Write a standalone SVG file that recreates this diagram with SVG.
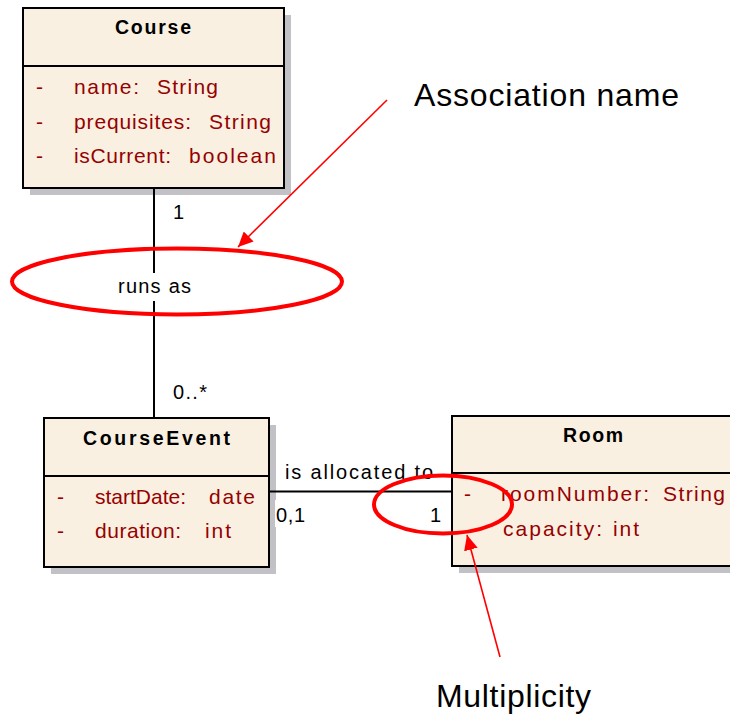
<svg xmlns="http://www.w3.org/2000/svg" width="730" height="715" viewBox="0 0 730 715">
  <style>
    text { font-family: "Liberation Sans", Arial, sans-serif; }
    .shadow { fill: #c2c1c6; }
    .box { fill: #faf0e2; stroke: #000; stroke-width: 2; }
    .div { stroke: #000; stroke-width: 2; }
    .title { font-size: 19.5px; font-weight: bold; fill: #000; }
    .attr { font-size: 21px; fill: #960000; }
    .assoc { stroke: #000; stroke-width: 2; fill: none; }
    .lbl { font-size: 20px; fill: #000; }
    .note { font-size: 32px; fill: #000; }
    .ring { fill: none; stroke: #ff0000; stroke-width: 4; }
    .pointer { stroke: #ff0000; stroke-width: 1.6; fill: none; marker-end: url(#head); }
  </style>
  <defs>
    <marker id="head" markerUnits="userSpaceOnUse" markerWidth="16" markerHeight="14" refX="15" refY="7" orient="auto">
      <path d="M0,0 L15,7 L0,14 z" fill="#ff0000"/>
    </marker>
  </defs>
  <rect width="730" height="715" fill="#fff"/>

  <!-- Course class -->
  <g id="course">
    <rect class="shadow" x="30" y="15" width="261" height="180"/>
    <rect class="box" x="23" y="8" width="261" height="180"/>
    <line class="div" x1="23" y1="66" x2="284" y2="66"/>
    <text class="title" x="115" y="34" textLength="76" lengthAdjust="spacing">Course</text>
    <text class="attr" x="36" y="94">-</text>
    <text class="attr" x="74" y="94" textLength="65" lengthAdjust="spacing">name:</text>
    <text class="attr" x="157" y="94" textLength="61" lengthAdjust="spacing">String</text>
    <text class="attr" x="36" y="129">-</text>
    <text class="attr" x="74" y="129" textLength="117" lengthAdjust="spacing">prequisites:</text>
    <text class="attr" x="209" y="129" textLength="62" lengthAdjust="spacing">String</text>
    <text class="attr" x="36" y="163">-</text>
    <text class="attr" x="74" y="163" textLength="97" lengthAdjust="spacing">isCurrent:</text>
    <text class="attr" x="189" y="163" textLength="87" lengthAdjust="spacing">boolean</text>
  </g>

  <!-- CourseEvent class -->
  <g id="courseevent">
    <rect class="shadow" x="51" y="425" width="225" height="149"/>
    <rect class="box" x="44" y="418" width="225" height="149"/>
    <line class="div" x1="44" y1="476" x2="269" y2="476"/>
    <text class="title" x="83" y="445" textLength="147" lengthAdjust="spacing">CourseEvent</text>
    <text class="attr" x="57" y="504">-</text>
    <text class="attr" x="95" y="504" textLength="91" lengthAdjust="spacing">startDate:</text>
    <text class="attr" x="209" y="504" textLength="46" lengthAdjust="spacing">date</text>
    <text class="attr" x="57" y="538">-</text>
    <text class="attr" x="95" y="538" textLength="86" lengthAdjust="spacing">duration:</text>
    <text class="attr" x="205" y="538" textLength="26" lengthAdjust="spacing">int</text>
  </g>

  <!-- Room class -->
  <g id="room">
    <rect class="shadow" x="459" y="423" width="290" height="150"/>
    <rect class="box" x="452" y="416" width="290" height="150"/>
    <line class="div" x1="452" y1="473" x2="742" y2="473"/>
    <text class="title" x="563" y="442" textLength="60" lengthAdjust="spacing">Room</text>
    <text class="attr" x="464" y="501">-</text>
    <text class="attr" x="501" y="501" textLength="148" lengthAdjust="spacing">roomNumber:</text>
    <text class="attr" x="663" y="501" textLength="62" lengthAdjust="spacing">String</text>
    <text class="attr" x="503" y="536" textLength="99" lengthAdjust="spacing">capacity:</text>
    <text class="attr" x="613" y="536" textLength="26" lengthAdjust="spacing">int</text>
  </g>

  <!-- associations -->
  <g id="connectors">
    <line class="assoc" x1="154" y1="188" x2="154" y2="418"/>
    <line class="assoc" x1="269" y1="491.5" x2="452" y2="491.5"/>
    <rect x="116" y="273" width="78" height="28" fill="#fff"/>
    <text class="lbl" x="118" y="293" textLength="73" lengthAdjust="spacing">runs as</text>
    <text class="lbl" x="173" y="219">1</text>
    <text class="lbl" x="173" y="399" textLength="34" lengthAdjust="spacing">0..*</text>
    <text class="lbl" x="285" y="479" textLength="148" lengthAdjust="spacing">is allocated to</text>
    <rect x="275" y="500" width="32" height="27" fill="#fff"/>
    <text class="lbl" x="276" y="521.5" textLength="29" lengthAdjust="spacing">0,1</text>
    <text class="lbl" x="430" y="521.5">1</text>
  </g>

  <!-- red annotations -->
  <g id="notes">
    <ellipse class="ring" cx="177" cy="281.5" rx="165" ry="33"/>
    <ellipse class="ring" cx="443" cy="504.5" rx="69" ry="29"/>
    <line class="pointer" x1="387" y1="100" x2="238" y2="247"/>
    <line class="pointer" x1="500" y1="657" x2="467" y2="535"/>
    <text class="note" x="414" y="106" textLength="265" lengthAdjust="spacing">Association name</text>
    <text class="note" x="436" y="707" textLength="155" lengthAdjust="spacing">Multiplicity</text>
  </g>
</svg>
